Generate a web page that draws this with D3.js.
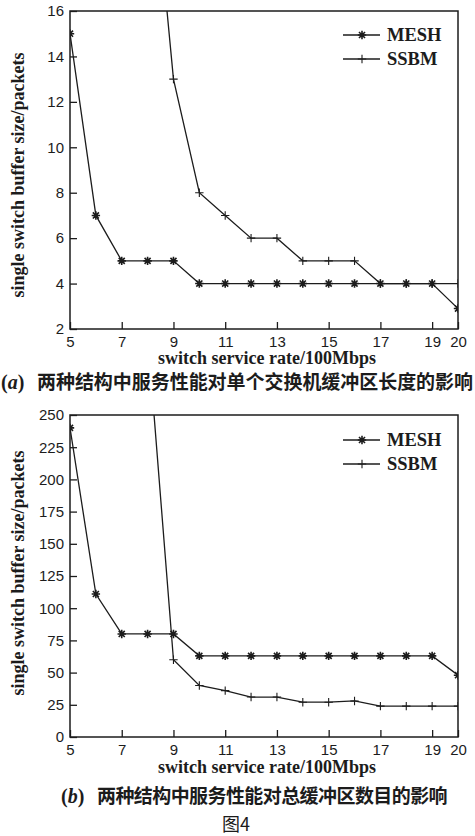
<!DOCTYPE html>
<html>
<head>
<meta charset="utf-8">
<script src="https://cdn.jsdelivr.net/npm/d3@7"></script>
<style>
  body { margin: 0; background: #fff; }
  svg { display: block; }
</style>
</head>
<body>
<div id="chart"></div>
<script>
// Fig. 4: buffer size vs. switch service rate, MESH vs SSBM

const rates = [5, 6, 7, 8, 9, 10, 11, 12, 13, 14, 15, 16, 17, 18, 19, 20];
const ssbmRates = [8, 9, 10, 11, 12, 13, 14, 15, 16, 17, 18, 19, 20];
const xTicks = [5, 7, 9, 11, 13, 15, 17, 19, 20];

// (a) single switch buffer length
const meshA = [15, 7, 5, 5, 5, 4, 4, 4, 4, 4, 4, 4, 4, 4, 4, 2.9];
const ssbmA = [25, 13, 8, 7, 6, 6, 5, 5, 5, 4, 4, 4, 4];
const yTicksA = [2, 4, 6, 8, 10, 12, 14, 16];

// (b) total buffer count
const meshB = [240, 111, 80, 80, 80, 63, 63, 63, 63, 63, 63, 63, 63, 63, 63, 48];
const ssbmB = [313, 60, 40, 36, 31, 31, 27, 27, 28, 24, 24, 24, 24];
const yTicksB = [0, 25, 50, 75, 100, 125, 150, 175, 200, 225, 250];

const seriesNames = ['MESH', 'SSBM'];
const xTitle = 'switch service rate/100Mbps';
const yTitle = 'single switch buffer size/packets';
const captionA = '两种结构中服务性能对单个交换机缓冲区长度的影响';
const captionB = '两种结构中服务性能对总缓冲区数目的影响';
const figTitle = '图4';

const W = 475, H = 836;
const ink = '#1c1c1c';
const serif = '"Liberation Serif", "DejaVu Serif", serif';
const sans = '"Liberation Sans", Arial, sans-serif';
const cjk = '"Noto Sans CJK SC", sans-serif';

const svg = d3.select('#chart').append('svg')
  .attr('width', W)
  .attr('height', H);

svg.append('rect').attr('width', W).attr('height', H).attr('fill', '#fff');

// 8-armed asterisk used for MESH points
function asterisk(r) {
  const d = r * 0.72;
  return `M${-r},0L${r},0M0,${-r}L0,${r}M${-d},${-d}L${d},${d}M${-d},${d}L${d},${-d}`;
}
function plus(r) {
  return `M${-r},0L${r},0M0,${-r}L0,${r}`;
}

function drawPanel(cfg) {
  const { left, right, top, bottom } = cfg;

  const x = d3.scaleLinear().domain([5, 20]).range([left, right]);
  const y = d3.scaleLinear().domain(cfg.yDomain).range([bottom, top]);

  const g = svg.append('g');

  const clipId = 'clip-' + cfg.id;
  svg.append('clipPath').attr('id', clipId)
    .append('rect')
    .attr('x', left).attr('y', top)
    .attr('width', right - left).attr('height', bottom - top);

  // axes with inward ticks
  const xAxis = g.append('g')
    .attr('transform', `translate(0,${bottom})`)
    .call(d3.axisBottom(x).tickValues(xTicks).tickFormat(d3.format('d'))
      .tickSizeInner(-7).tickSizeOuter(0).tickPadding(7));

  const yAxis = g.append('g')
    .attr('transform', `translate(${left},0)`)
    .call(d3.axisLeft(y).tickValues(cfg.yTicks).tickFormat(d3.format('d'))
      .tickSizeInner(-7).tickSizeOuter(0).tickPadding(6));

  [xAxis, yAxis].forEach(a => {
    a.select('.domain').remove();
    a.selectAll('line').attr('stroke', ink).attr('stroke-width', 1.3);
    a.selectAll('text')
      .attr('fill', ink)
      .style('font-family', sans)
      .style('font-size', '15px');
  });

  // frame
  g.append('rect')
    .attr('x', left).attr('y', top)
    .attr('width', right - left).attr('height', bottom - top)
    .attr('fill', 'none')
    .attr('stroke', ink)
    .attr('stroke-width', 1.5);

  const line = d3.line().x(d => x(d[0])).y(d => y(d[1]));

  const series = [
    { name: seriesNames[0], pts: d3.zip(rates, cfg.mesh), marker: asterisk(4.2), sw: 1.6 },
    { name: seriesNames[1], pts: d3.zip(ssbmRates, cfg.ssbm), marker: plus(4.2), sw: 1.1 }
  ];

  const plot = g.append('g').attr('clip-path', `url(#${clipId})`);

  series.forEach(s => {
    plot.append('path')
      .datum(s.pts)
      .attr('d', line)
      .attr('fill', 'none')
      .attr('stroke', ink)
      .attr('stroke-width', 1.3);

    plot.selectAll(null)
      .data(s.pts)
      .join('path')
      .attr('transform', d => `translate(${x(d[0])},${y(d[1])})`)
      .attr('d', s.marker)
      .attr('fill', 'none')
      .attr('stroke', ink)
      .attr('stroke-width', s.sw);
  });

  // legend
  const leg = g.append('g');
  series.forEach((s, i) => {
    const ly = top + cfg.legendTop + i * 24;
    leg.append('line')
      .attr('x1', 343).attr('x2', 380)
      .attr('y1', ly).attr('y2', ly)
      .attr('stroke', ink).attr('stroke-width', 1.3);
    leg.append('path')
      .attr('transform', `translate(362,${ly})`)
      .attr('d', s.marker)
      .attr('fill', 'none')
      .attr('stroke', ink)
      .attr('stroke-width', s.sw);
    leg.append('text')
      .attr('x', 387).attr('y', ly)
      .attr('dy', '0.35em')
      .attr('fill', ink)
      .style('font-family', serif)
      .style('font-weight', 'bold')
      .style('font-size', '18.5px')
      .text(s.name);
  });

  // axis titles
  g.append('text')
    .attr('x', (left + right) / 2 + 3)
    .attr('y', cfg.xTitleY)
    .attr('text-anchor', 'middle')
    .attr('fill', ink)
    .style('font-family', serif)
    .style('font-weight', 'bold')
    .style('font-size', '18px')
    .text(xTitle);

  g.append('text')
    .attr('transform', `translate(24,${cfg.yTitleMid}) rotate(-90)`)
    .attr('text-anchor', 'middle')
    .attr('fill', ink)
    .style('font-family', serif)
    .style('font-weight', 'bold')
    .style('font-size', '18px')
    .text(yTitle);

  // caption: "(a)" tag, then the Chinese text spread to its measured width
  const tag = g.append('text')
    .attr('x', cfg.captionX)
    .attr('y', cfg.captionY)
    .attr('fill', ink)
    .style('font-family', serif)
    .style('font-weight', 'bold')
    .style('font-size', '20px');
  tag.append('tspan').text('(');
  tag.append('tspan').style('font-style', 'italic').text(cfg.tag);
  tag.append('tspan').text(')');

  const cap = g.append('text')
    .attr('x', cfg.captionX + cfg.tagWidth)
    .attr('y', cfg.captionY)
    .attr('fill', ink)
    .style('font-family', cjk)
    .style('font-weight', 'bold')
    .style('font-size', '19px')
    .text(cfg.caption);
  const n = cfg.caption.length;
  const natural = cap.node().getComputedTextLength();
  cap.style('letter-spacing', ((cfg.captionWidth - natural) / n) + 'px');
}

drawPanel({
  id: 'a', tag: 'a', caption: captionA,
  left: 70, right: 458, top: 11, bottom: 329,
  yDomain: [2, 16], yTicks: yTicksA,
  mesh: meshA, ssbm: ssbmA,
  legendTop: 24,
  xTitleY: 364, yTitleMid: 175,
  captionX: 1, captionY: 389, tagWidth: 36, captionWidth: 436
});

drawPanel({
  id: 'b', tag: 'b', caption: captionB,
  left: 70, right: 458, top: 415, bottom: 737,
  yDomain: [0, 250], yTicks: yTicksB,
  mesh: meshB, ssbm: ssbmB,
  legendTop: 25,
  xTitleY: 773, yTitleMid: 573,
  captionX: 61, captionY: 803, tagWidth: 36, captionWidth: 350
});

svg.append('text')
  .attr('x', 236)
  .attr('y', 831)
  .attr('text-anchor', 'middle')
  .attr('fill', ink)
  .style('font-family', cjk)
  .style('font-size', '18px')
  .text(figTitle);
</script>
</body>
</html>
